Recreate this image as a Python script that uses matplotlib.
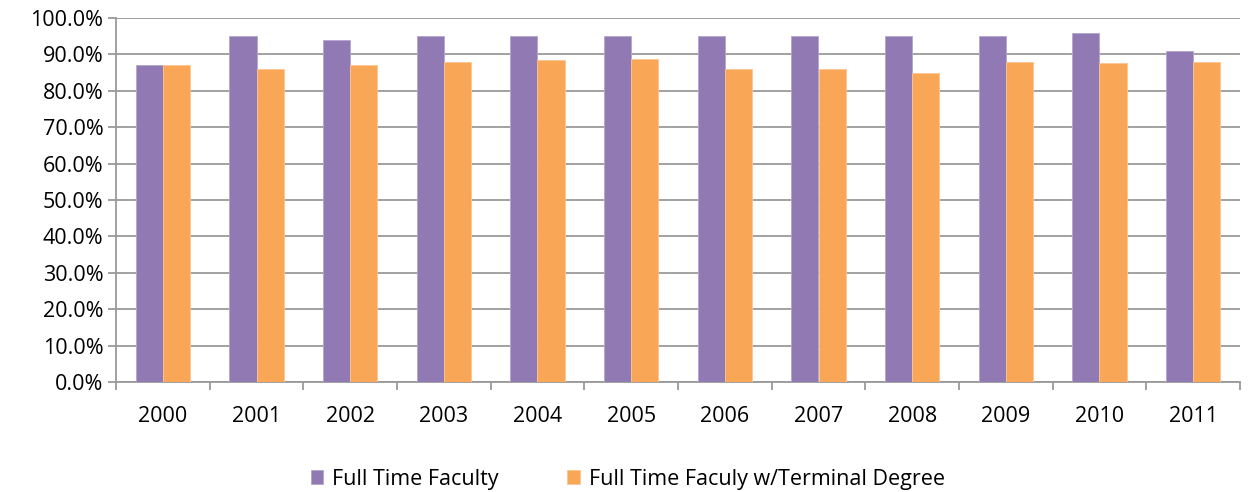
import numpy as np
import matplotlib.pyplot as plt
from matplotlib.ticker import FuncFormatter, FixedLocator

years = ['2000', '2001', '2002', '2003', '2004', '2005',
         '2006', '2007', '2008', '2009', '2010', '2011']
full_time = [87.0, 95.0, 94.0, 95.0, 95.0, 95.0, 95.0, 95.0, 95.0, 95.0, 96.0, 91.0]
terminal = [87.0, 86.0, 87.0, 88.0, 88.4, 88.8, 86.0, 86.0, 85.0, 88.0, 87.6, 88.0]

plt.rcParams['font.family'] = ['Open Sans', 'DejaVu Sans']

fig = plt.figure(figsize=(12.48, 4.92), dpi=100)
ax = fig.add_axes([116 / 1248, 1 - 382 / 492, (1240 - 116) / 1248, (382 - 18) / 492])

x = np.arange(len(years))
w = 0.29
ax.bar(x - w / 2, full_time, w, color='#917AB3', edgecolor='#B5A6CC', linewidth=0.6,
       label='Full Time Faculty', zorder=3)
ax.bar(x + w / 2, terminal, w, color='#F9A656', edgecolor='#FBC594', linewidth=0.6,
       label='Full Time Faculy w/Terminal Degree', zorder=3)

ax.set_xlim(-0.5, len(years) - 0.5)
ax.set_ylim(0, 100)
ax.set_yticks(np.arange(0, 101, 10))
ax.yaxis.set_major_formatter(FuncFormatter(lambda v, p: '%.1f%%' % v))
ax.yaxis.grid(True, color='#9A9A9A', linewidth=1.3, zorder=0)

ax.set_xticks(x)
ax.set_xticklabels(years)
ax.xaxis.set_minor_locator(FixedLocator(np.arange(-0.5, len(years), 1)))
ax.tick_params(axis='x', which='major', length=0, pad=17, labelsize=15.5)
ax.tick_params(axis='x', which='minor', length=6, color='#9A9A9A', width=1.3)
ax.tick_params(axis='y', length=6, color='#9A9A9A', width=1.3, labelsize=15.5, pad=3)

for s in ['top', 'right']:
    ax.spines[s].set_visible(False)
for s in ['left', 'bottom']:
    ax.spines[s].set_color('#9A9A9A')
    ax.spines[s].set_linewidth(1.3)

fig.legend(loc='lower center', bbox_to_anchor=(0.503, -0.035), ncol=2, frameon=False,
           fontsize=15.5, handlelength=0.6, handleheight=0.6, handletextpad=0.4,
           columnspacing=3.2)

fig.savefig('out.png', dpi=100)
